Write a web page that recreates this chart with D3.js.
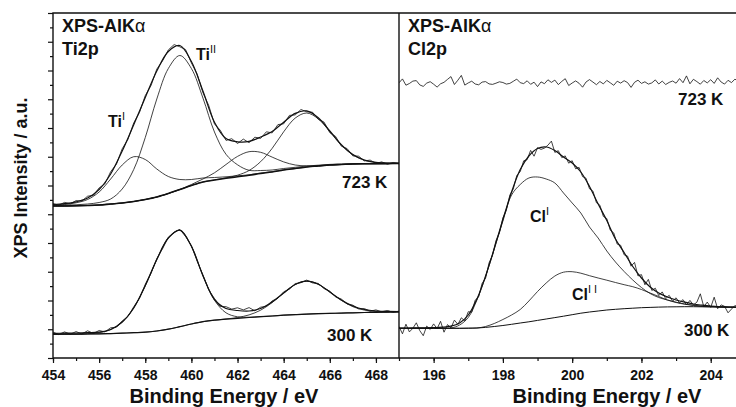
<!DOCTYPE html>
<html>
<head>
<meta charset="utf-8">
<script src="https://cdnjs.cloudflare.com/ajax/libs/d3/7.8.5/d3.min.js"></script>
<style>
  body { margin: 0; background: #fff; }
  text { font-family: "Liberation Sans", Arial, Helvetica, sans-serif; font-weight: bold; fill: #111; }
  .tick text { font-size: 14px; }
  .tick line { stroke: #111; stroke-width: 1.2; }
</style>
</head>
<body>
<svg id="chart" width="736" height="407"></svg>
<script>

// ---- data (intensities in a.u.) ----

// Ti2p, fitted curves sampled every 0.5 eV from 454 to 469
var tiStep = 0.5;
var ti723Bg  = [152,152,152.2,152.5,153,154,155,156.5,158.5,161,164.5,168.5,172.5,176,178,179.7,181.2,182.7,184.5,186,188,189.5,191,192,193,193.5,194,194.2,194.3,194.4,194.5];
var ti723Env = [153.5,154.3,156.2,160,168.5,184,207,233.3,260.5,287,306.5,312.5,296.5,267,235.8,219.4,216.2,216.6,221,226.5,235.8,244.6,247.1,240.2,227,213.3,203.5,198,195.7,194.9,194.8];
var ti723TiI  = [153,153.5,155.2,158.5,166,179,193,201.3,198.5,189,181.5,178.5,178.5,180,180.5,181.2,182.2,183.2,185,186.3,188.2,189.5,191,192,193,193.5,194,194.2,194.3,194.4,194.5];
var ti723TiII = [152.5,152.8,153.2,154,155.5,159,169,188.5,220.5,259,289.5,302.5,289.5,260,226,203.7,193.2,187.7,187.5,188,189.5,190.7,192,192.8,193.6,194,194.4,194.5,194.6,194.6,194.7];
var ti723TiI2  = [152,152,152.2,152.5,153,154,155,156.5,158.5,161,164.5,168.5,173.5,179,185.2,193.5,201.6,206.3,205.7,200.9,196.1,193,192.1,192.3,193,193.5,194,194.2,194.3,194.4,194.5];
var ti723TiII2 = [152,152,152.2,152.5,153,154,155,156.5,158.5,161,164.5,168.5,172.5,176,178.1,180.1,182.8,187.5,196.3,209.6,226.2,239.9,245,239.1,226.4,212.8,203.1,197.7,195.4,194.7,194.6];

var ti300Bg  = [23.7,23.8,23.9,24,24.2,24.4,24.8,25.3,25.8,27,28.8,31.3,34,36.3,37.8,38.8,39.7,40.5,41.3,42,42.8,43.4,43.9,44.3,44.6,44.9,45.2,45.5,45.7,45.9,46.1];
var ti300Env = [24.7,24.8,25,25.3,25.8,28.5,36,50,72.5,98.5,120,127.8,111.7,82.3,58.5,49.5,47.5,47,49.5,56,65,73.5,76.8,73.8,66,58,52,48.5,47,46.6,46.5];
var ti300P1  = [23.7,23.8,23.9,24.3,25.4,28.4,35.8,50.1,72,98.4,120,127.7,111.7,82.3,57.8,45.2,41.2,40.8,41.3,42,42.8,43.4,43.9,44.3,44.6,44.9,45.2,45.5,45.7,45.9,46.1];
var ti300P2  = [23.7,23.8,23.9,24,24.2,24.4,24.8,25.3,25.8,27,28.8,31.3,34,36.3,37.8,39,40.5,43.1,47.8,55.4,65,73.4,76.9,73.8,66.1,57.6,51.3,47.9,46.5,46.1,46.1];

// Ti2p, measured points every 0.25 eV from 454 to 469
var tiRawStep = 0.25;
var ti723Raw = [154.5,152.8,155.6,154.2,157.4,156.9,161.8,162.6,170.1,174.2,186.3,193.8,209.2,218.7,235.1,245.6,262.4,272.5,288.9,297.2,308.1,313.4,311.2,308.3,295.1,283.9,265.4,252.6,234.1,227.8,217.6,219.3,214.5,218.9,215.3,220.8,219.6,226.2,225.1,233.4,234.2,242.6,243.1,248.5,246.2,245.8,238.7,235.9,225.3,221.6,211.8,209.4,202.1,201.8,197.1,197.9,194.6,196.1,193.8,195.5,194.2];
var ti300Raw = [25.9,23.4,26.1,23.8,26.4,24.1,27.2,24.6,27.5,26.1,30.2,30.8,37.1,41.5,51.2,59.7,73.6,84.8,99.4,109.3,120.8,125.4,128.6,121.5,112.4,96.8,83.1,68.3,59.4,51.6,51.3,48.9,50.2,48.1,50.4,47.2,50.8,51.7,57.1,59.8,66.2,68.9,74.4,75.3,77.9,75.1,74.6,69.4,66.8,61.2,58.9,54.1,52.8,49.2,49.4,46.8,48.1,46.2,47.5,45.6,46.9];

// Cl2p, fitted curves every 0.25 eV from 195 to 204.75
var clStep = 0.25;
var cl300Env = [30,30,30.1,30.2,30.4,30.8,31.8,35,43,59,82,109.5,138.5,166,188.5,202,209.5,211,207.5,201,195,186,171.5,154,137.5,119,105.5,91.5,80,71,65,61,58,55.8,54,52.8,51.8,51.2,51,50.8];
var cl300Bg  = [29.7,29.7,29.7,29.7,29.7,29.7,29.7,29.7,29.8,30,30.6,31.5,32.5,33.7,35,36.2,37.6,39,40.4,41.8,43.3,44.8,46,47,48,48.7,49.3,49.8,50.3,50.6,50.9,51.1,51.2,51.3,51.3,51.2,51.1,51,50.8,50.7];
var cl300ClI = [29.7,29.7,29.7,29.7,29.7,29.7,30,33,40.5,58,81.5,109,137,163,173.5,180,181,179,175,165,155,145,131,120,107,96,86.5,78,70.5,64.5,60.5,58,55.8,54,52.8,52,51.5,51.2,51,50.8];
var cl300ClII = [29.7,29.7,29.7,29.7,29.7,29.7,29.7,29.7,29.8,30,31.5,34.5,38.5,43,48.5,57,66.5,75,82,85.8,86.3,84.8,82.3,80,77.8,75.5,73.3,71.3,68.5,65,61.5,58,55.5,53.8,52.5,51.5,51.2,51,50.8,50.7];

// Cl2p, measured points every 0.1 eV from 195 to 204.8
var clRawStep = 0.1;
var cl723Raw = [275.2,279.1,272.8,274.5,276.9,277.4,273.1,271.6,274.9,276.3,
  273.8,270.9,274.2,275.7,278.6,281.4,273.5,277.8,282.6,272.9,
  275.1,276.8,274.0,273.2,275.9,276.4,274.1,273.6,274.8,276.2,
  275.5,273.9,274.6,276.7,278.9,275.3,274.4,277.2,273.7,275.8,
  271.4,276.1,274.3,278.2,275.6,277.9,273.4,276.6,279.3,272.5,
  275.0,277.1,274.7,270.8,276.0,278.4,275.9,273.3,276.5,274.1,
  277.6,275.2,272.7,276.8,274.9,277.3,275.4,270.6,275.7,277.8,
  274.6,276.2,273.9,275.1,278.1,274.0,276.9,273.5,275.6,277.0,
  274.8,279.4,275.3,282.1,274.2,278.7,276.4,273.8,277.5,275.1,
  278.3,274.6,280.2,276.0,273.9,277.7,275.4,278.9,276.2];
var cl300Raw = [31.5,24.2,33.8,26.1,29.7,35.2,27.4,22.3,31.9,28.6,
  34.1,29.3,36.7,25.8,33.4,30.2,37.9,33.6,40.2,37.1,
  46.3,45.8,57.9,61.2,74.6,79.8,95.1,102.6,117.4,125.3,
  140.2,147.8,162.9,169.1,182.4,186.3,197.2,198.4,207.6,201.8,
  210.4,208.6,209.9,212.8,216.9,205.6,207.3,200.4,202.1,194.8,
  197.3,189.2,190.6,181.4,179.8,169.2,166.9,155.3,152.8,141.6,
  139.4,127.8,125.1,113.9,112.7,103.2,101.9,91.8,95.6,82.1,
  83.4,73.2,78.6,67.5,69.8,62.4,66.1,59.3,62.7,56.8,
  60.2,55.1,58.4,53.2,57.6,53.1,55.8,64.2,51.3,55.9,
  50.6,60.8,49.3,53.1,51.7,45.2,48.9,52.6,50.1];

// axis ticks
var tiMinorTicks = d3.range(454, 469, 1);
var tiMajorTicks = [454, 456, 458, 460, 462, 464, 466, 468];
var clMinorTicks = d3.range(195, 205, 1);
var clMajorTicks = [196, 198, 200, 202, 204];
var yMax = 345, yTickCount = 24;

// ---- layout ----
var svg = d3.select("#chart");
var plotTop = 13, plotBottom = 358, plotLeft = 53, plotMid = 399, plotRight = 736;

var xTi = d3.scaleLinear().domain([454, 469]).range([plotLeft, plotMid]);
var xCl = d3.scaleLinear().domain([195, 204.73]).range([plotMid, plotRight]);
var y = d3.scaleLinear().domain([0, yMax]).range([plotBottom, plotTop]);

var defs = svg.append("defs");
defs.append("clipPath").attr("id", "clip-ti").append("rect")
    .attr("x", plotLeft).attr("y", plotTop).attr("width", plotMid - plotLeft).attr("height", plotBottom - plotTop);
defs.append("clipPath").attr("id", "clip-cl").append("rect")
    .attr("x", plotMid).attr("y", plotTop).attr("width", plotRight - plotMid).attr("height", plotBottom - plotTop);

var gTi = svg.append("g").attr("clip-path", "url(#clip-ti)");
var gCl = svg.append("g").attr("clip-path", "url(#clip-cl)");

// draw one series; start/step give the energy of each sample
function drawCurve(g, x, start, step, values, width, smooth) {
  var line = d3.line()
      .x(function(d, i) { return x(start + i * step); })
      .y(function(d) { return y(d); })
      .curve(smooth ? d3.curveCatmullRom : d3.curveLinear);
  g.append("path")
      .datum(values)
      .attr("fill", "none")
      .attr("stroke", "#111")
      .attr("stroke-width", width)
      .attr("stroke-linejoin", "round")
      .attr("d", line);
}

// Ti2p 723 K
drawCurve(gTi, xTi, 454, tiRawStep, ti723Raw, 0.8, false);
[ti723TiI, ti723TiII, ti723TiI2, ti723TiII2].forEach(function(c) {
  drawCurve(gTi, xTi, 454, tiStep, c, 0.8, true);
});
drawCurve(gTi, xTi, 454, tiStep, ti723Bg, 1.6, true);
drawCurve(gTi, xTi, 454, tiStep, ti723Env, 1.2, true);

// Ti2p 300 K
drawCurve(gTi, xTi, 454, tiRawStep, ti300Raw, 0.8, false);
[ti300P1, ti300P2].forEach(function(c) {
  drawCurve(gTi, xTi, 454, tiStep, c, 0.8, true);
});
drawCurve(gTi, xTi, 454, tiStep, ti300Bg, 1.2, true);
drawCurve(gTi, xTi, 454, tiStep, ti300Env, 1.2, true);

// Cl2p
drawCurve(gCl, xCl, 195, clRawStep, cl723Raw, 0.8, false);
drawCurve(gCl, xCl, 195, clRawStep, cl300Raw, 0.8, false);
[cl300ClI, cl300ClII].forEach(function(c) {
  drawCurve(gCl, xCl, 195, clStep, c, 0.8, true);
});
drawCurve(gCl, xCl, 195, clStep, cl300Bg, 1.0, true);
drawCurve(gCl, xCl, 195, clStep, cl300Env, 1.2, true);

// ---- axes ----
function bottomAxis(x, minor, major) {
  svg.append("g").attr("transform", "translate(0," + plotBottom + ")")
      .call(d3.axisBottom(x).tickValues(minor).tickSize(3).tickFormat(""))
      .call(function(g) { g.select(".domain").remove(); });
  svg.append("g").attr("transform", "translate(0," + plotBottom + ")")
      .call(d3.axisBottom(x).tickValues(major).tickSize(5).tickPadding(7).tickFormat(d3.format("d")))
      .call(function(g) {
        g.select(".domain").remove();
        g.selectAll("text").attr("font-family", null).attr("font-size", null);
      });
}
bottomAxis(xTi, tiMinorTicks, tiMajorTicks);
bottomAxis(xCl, clMinorTicks, clMajorTicks);

var yTicks = d3.range(0, yTickCount + 1).map(function(i) { return i * yMax / yTickCount; });
svg.append("g").attr("transform", "translate(" + plotLeft + ",0)")
    .call(d3.axisLeft(y).tickValues(yTicks.filter(function(d, i) { return i % 2; })).tickSize(3).tickFormat(""))
    .call(function(g) { g.select(".domain").remove(); });
svg.append("g").attr("transform", "translate(" + plotLeft + ",0)")
    .call(d3.axisLeft(y).tickValues(yTicks.filter(function(d, i) { return !(i % 2); })).tickSize(5).tickFormat(""))
    .call(function(g) { g.select(".domain").remove(); });

// frame
var frame = svg.append("g").attr("stroke", "#111").attr("stroke-width", 1.4).attr("fill", "none");
frame.append("path").attr("d", "M" + plotLeft + "," + plotBottom + "V" + plotTop + "H" + plotRight);
frame.append("path").attr("d", "M" + plotLeft + "," + plotBottom + "H" + plotRight);
frame.append("path").attr("d", "M" + plotMid + "," + plotTop + "V" + plotBottom);

// ---- text ----
function label(x, yy, txt, size, sup) {
  var t = svg.append("text").attr("x", x).attr("y", yy).attr("font-size", size).text(txt);
  if (sup) {
    t.append("tspan").attr("dy", -7).attr("font-size", 11).attr("font-weight", "normal").text(sup);
  }
  return t;
}
function heading(x, yy, line2) {
  var t = label(x, yy, "XPS-AlK", 18);
  t.append("tspan").attr("font-weight", "normal").text("\u03b1");
  label(x, yy + 23, line2, 18);
}
heading(62, 32, "Ti2p");
heading(408, 32, "Cl2p");

label(108, 127, "Ti", 16, "I");
label(196, 60, "Ti", 16, "II");
label(530, 222, "Cl", 16, "I");
label(572, 300, "Cl", 16, "I I");

label(342, 188, "723 K", 17);
label(327, 341, "300 K", 17);
label(678, 105, "723 K", 17);
label(684, 336, "300 K", 17);

svg.append("text").attr("x", 224).attr("y", 403).attr("text-anchor", "middle")
    .attr("font-size", 20).text("Binding Energy / eV");
svg.append("text").attr("x", 607).attr("y", 403).attr("text-anchor", "middle")
    .attr("font-size", 20).text("Binding Energy / eV");
svg.append("text").attr("transform", "translate(27,178) rotate(-90)").attr("text-anchor", "middle")
    .attr("font-size", 18).text("XPS Intensity / a.u.");

</script>
</body>
</html>
